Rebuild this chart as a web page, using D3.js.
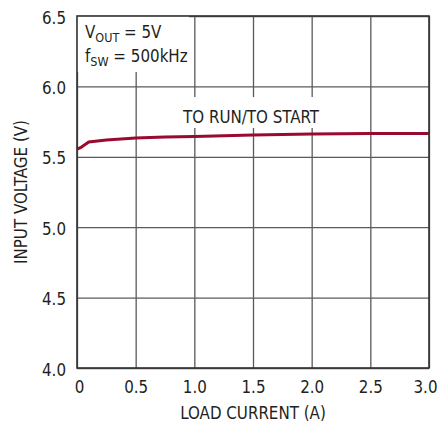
<!DOCTYPE html>
<html>
<head>
<meta charset="utf-8">
<script src="https://d3js.org/d3.v7.min.js"></script>
<style>
  body { margin: 0; background: #fff; }
  text { font-family: "Liberation Sans Narrow", "DejaVu Sans Condensed", Roboto, sans-serif; fill: #231f20; }
</style>
</head>
<body>
<script>
// load current (A) vs minimum input voltage (V)
const current = [0, 0.03, 0.1, 0.25, 0.5, 0.75, 1.0, 1.5, 2.0, 2.5, 3.0];
const voltage = [5.555, 5.565, 5.605, 5.62, 5.633, 5.64, 5.645, 5.655, 5.662, 5.665, 5.665];
const xTicks = [0, 0.5, 1.0, 1.5, 2.0, 2.5, 3.0];
const xLabels = ["0", "0.5", "1.0", "1.5", "2.0", "2.5", "3.0"];
const yTicks = [4.0, 4.5, 5.0, 5.5, 6.0, 6.5];
const yLabels = ["4.0", "4.5", "5.0", "5.5", "6.0", "6.5"];

const margin = {top: 16, right: 15, bottom: 57, left: 77};
const width = 444 - margin.left - margin.right;
const height = 425 - margin.top - margin.bottom;
const fs = 16.8;

const svg = d3.select("body")
  .append("svg")
    .attr("width", 444)
    .attr("height", 425)
  .append("g")
    .attr("transform", "translate(" + margin.left + "," + margin.top + ")");

const x = d3.scaleLinear().domain([0, 3]).range([0, width]);
const y = d3.scaleLinear().domain([4, 6.5]).range([height, 0]);

// grid + tick labels
const gx = svg.append("g")
  .attr("transform", "translate(0," + height + ")")
  .call(d3.axisBottom(x).tickValues(xTicks)
    .tickFormat(function(d, i) { return xLabels[i]; })
    .tickSizeInner(-height).tickSizeOuter(0).tickPadding(13));
gx.select(".domain").remove();
gx.selectAll("line").attr("stroke", "#5a5a5a").attr("stroke-width", 1.3);
gx.selectAll("text").attr("font-size", fs)
  .attr("dx", function(d, i) { return i == 0 ? 2 : (i == xTicks.length - 1 ? -4 : 0); });

const gy = svg.append("g")
  .call(d3.axisLeft(y).tickValues(yTicks)
    .tickFormat(function(d, i) { return yLabels[i]; })
    .tickSizeInner(-width).tickSizeOuter(0).tickPadding(11));
gy.select(".domain").remove();
gy.selectAll("line").attr("stroke", "#5a5a5a").attr("stroke-width", 1.3);
gy.selectAll("text").attr("font-size", fs).attr("dy", "0.42em");

// white boxes behind the notes
svg.append("rect")
  .attr("x", 0).attr("y", 0)
  .attr("width", 112).attr("height", 56)
  .attr("fill", "#fff");
svg.append("rect")
  .attr("x", 102).attr("y", 81)
  .attr("width", 148).attr("height", 31)
  .attr("fill", "#fff");

// curve
svg.append("path")
  .datum(current)
  .attr("fill", "none")
  .attr("stroke", "#990a30")
  .attr("stroke-width", 3)
  .attr("d", d3.line()
    .x(function(d) { return x(d); })
    .y(function(d, i) { return y(voltage[i]); }));

// frame
svg.append("rect")
  .attr("width", width).attr("height", height)
  .attr("fill", "none")
  .attr("stroke", "#333")
  .attr("stroke-width", 1.6);

// notes
const t1 = svg.append("text").attr("x", 8).attr("y", 22).attr("font-size", fs);
t1.append("tspan").text("V");
t1.append("tspan").text("OUT").attr("font-size", 12.5).attr("dy", 4);
t1.append("tspan").text(" = 5V").attr("dy", -4);
const t2 = svg.append("text").attr("x", 8).attr("y", 46).attr("font-size", fs);
t2.append("tspan").text("f");
t2.append("tspan").text("SW").attr("font-size", 12.5).attr("dy", 4);
t2.append("tspan").text(" = 500kHz").attr("dy", -4);

svg.append("text")
  .text("TO RUN/TO START")
  .attr("x", 106).attr("y", 107)
  .attr("font-size", fs);

// axis titles
svg.append("text")
  .text("LOAD CURRENT (A)")
  .attr("x", width / 2).attr("y", 403)
  .attr("text-anchor", "middle")
  .attr("font-size", fs);
svg.append("text")
  .text("INPUT VOLTAGE (V)")
  .attr("transform", "translate(" + (26.5 - margin.left) + "," + (height / 2) + ") rotate(-90)")
  .attr("text-anchor", "middle")
  .attr("font-size", fs);
</script>
</body>
</html>
